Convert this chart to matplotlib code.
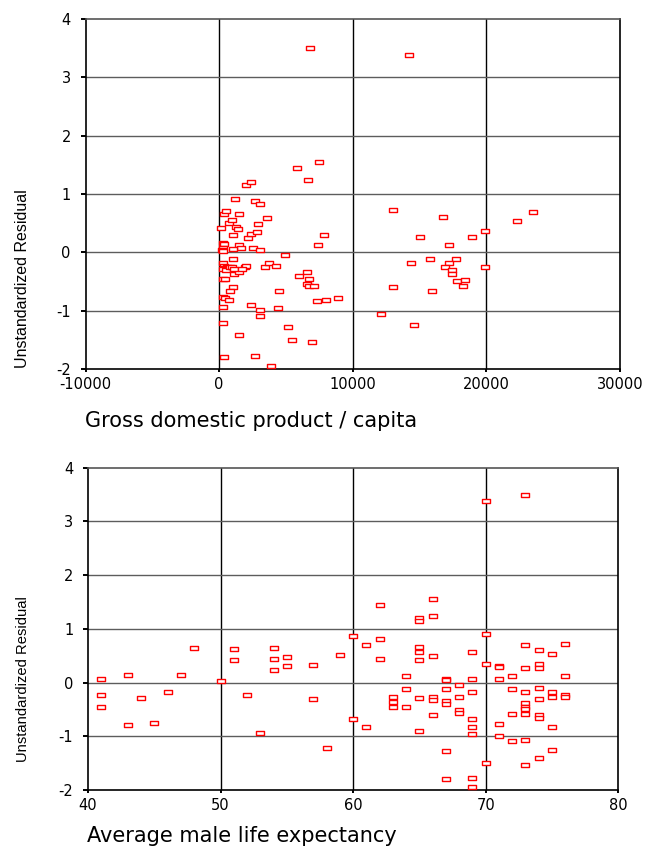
import matplotlib
matplotlib.use("Agg")
import matplotlib.pyplot as plt
from matplotlib.path import Path
from matplotlib import font_manager
import numpy as np

# ---------------- data ----------------
gdp_x = [150, 350, 520, 270, 380, 270, 250, 300, 270, 400, 600, 450, 300, 500,
         270, 420, 270, 420, 720, 270, 270, 370,
         770, 960, 1060, 1210, 1300, 1380, 1460, 1460, 1610, 1060, 1060, 800,
         1000, 1100, 1460, 1100, 1060, 830, 1900, 2000, 1700, 2000, 2400, 2130,
         2370, 2550, 2670, 2800, 2920, 3070, 3070, 3590, 3460, 3740, 4250, 4920,
         4500, 2400, 4380, 3070, 3070, 1460, 2670, 3860, 5190, 5460, 6920, 5990,
         6550, 6700, 6550, 6700, 7100, 7320, 8000, 8930, 5860, 7470, 6650, 7870,
         7370, 6820, 14230,
         12980, 16770, 23500, 22300, 19870, 15010, 18920, 17170, 14330, 15810,
         17710, 17170, 16890, 17440, 17440, 19870, 17820, 18390, 18240, 12980,
         15960, 12150, 14610]
gdp_resid = [0.42, 0.65, 0.70, 0.16, 0.14, 0.08, 0.04, 0.02, -0.18, -0.23, -0.25,
             -0.27, -0.28, -0.30, -0.45, -0.45, -0.76, -0.79, -0.81, -0.94, -1.22,
             -1.79,
             0.50, 0.55, 0.30, 0.91, 0.43, 0.40, 0.66, 0.12, 0.08, 0.06, -0.12,
             -0.26, -0.26, -0.37, -0.33, -0.29, -0.59, -0.67, -0.25, -0.24, -0.28,
             1.15, 1.20, 0.24, 0.32, 0.08, 0.88, 0.34, 0.49, 0.82, 0.04, 0.58,
             -0.26, -0.18, -0.24, -0.05, -0.67, -0.91, -0.95, -0.99, -1.10, -1.41,
             -1.77, -1.95, -1.28, -1.50, -1.53, -0.40, -0.34, -0.45, -0.54, -0.58,
             -0.58, -0.84, -0.81, -0.78, 1.45, 1.55, 1.24, 0.30, 0.12, 3.50, 3.38,
             0.72, 0.60, 0.69, 0.53, 0.36, 0.27, 0.27, 0.12, -0.18, -0.12,
             -0.11, -0.18, -0.26, -0.30, -0.38, -0.26, -0.49, -0.47, -0.58, -0.60,
             -0.66, -1.05, -1.25]

life_x = [41, 41, 41, 43, 43, 44, 45, 46, 47, 48, 50, 51, 51, 52, 53, 54, 54, 54,
          55, 55, 57, 57, 58, 59, 60, 60, 61, 61, 62, 62, 62, 63, 63, 63, 64, 64,
          64, 65, 65, 65, 65, 65, 65, 65, 66, 66, 66, 66, 66, 66,
          67, 67, 67, 67, 67, 67, 67, 68, 68, 68, 68,
          69, 69, 69, 69, 69, 69, 69, 69, 70, 70, 70, 70,
          71, 71, 71, 71, 71, 72, 72, 72, 72,
          73, 73, 73, 73, 73, 73, 73, 73, 73, 73,
          74, 74, 74, 74, 74, 74, 74, 74, 75, 75, 75, 75, 75, 76, 76, 76, 76]
life_resid = [0.06, -0.24, -0.46, 0.14, -0.79, -0.28, -0.76, -0.18, 0.15, 0.65,
              0.02, 0.63, 0.42, -0.24, -0.94, 0.65, 0.44, 0.24, 0.47, 0.30, 0.32,
              -0.30, -1.21, 0.52, 0.87, -0.68, 0.70, -0.82, 1.45, 0.81, 0.43,
              -0.26, -0.36, -0.46, 0.12, -0.12, -0.46,
              1.20, 1.15, 0.66, 0.56, 0.42, -0.28, -0.91,
              1.55, 1.23, 0.50, -0.26, -0.33, -0.60,
              0.06, 0.04, -0.12, -0.34, -0.39, -1.27, -1.79,
              -0.04, -0.26, -0.52, -0.56,
              0.57, 0.07, -0.18, -0.68, -0.83, -0.96, -1.77, -1.95,
              3.38, 0.91, 0.34, -1.49,
              0.31, 0.29, 0.07, -0.78, -0.99,
              0.12, -0.12, -0.58, -1.09,
              3.50, 0.70, 0.28, -0.18, -0.38, -0.46, -0.50, -0.58, -1.06, -1.53,
              0.60, 0.35, 0.28, -0.10, -0.30, -0.60, -0.66, -1.41,
              0.53, -0.18, -0.26, -0.82, -1.25,
              0.71, 0.12, -0.24, -0.26]

gdp_ticks = [-10000, 0, 10000, 20000, 30000]
life_ticks = [40, 50, 60, 70, 80]
resid_ticks = [-2, -1, 0, 1, 2, 3, 4]

y_title = "Unstandardized Residual"
gdp_title = "Gross domestic product / capita"
life_title = "Average male life expectancy"

# ---------------- style ----------------
W, H = 648, 846
fig = plt.figure(figsize=(W / 100, H / 100), dpi=100)

rect_marker = Path([(-1, -0.62), (1, -0.62), (1, 0.62), (-1, 0.62), (-1, -0.62)],
                   [Path.MOVETO, Path.LINETO, Path.LINETO, Path.LINETO, Path.CLOSEPOLY])

tick_font = dict(family=["DejaVu Sans"], size=10.5)
label_font = dict(family=["DejaVu Sans"], size=15)

installed = {f.name for f in font_manager.fontManager.ttflist}
if "Liberation Sans Narrow" in installed:
    ylab_family = ["Liberation Sans Narrow", "DejaVu Sans"]
    ysize_top, ysize_bot = 14, 12.8
else:
    ylab_family = ["Liberation Sans", "DejaVu Sans"]
    ysize_top, ysize_bot = 11.5, 10.6


def px_axes(left, top, right, bottom):
    return fig.add_axes([left / W, 1 - bottom / H, (right - left) / W, (bottom - top) / H])


def style(ax, xt, xlim):
    ax.set_xlim(xlim)
    ax.set_ylim(-2, 4)
    ax.set_xticks(xt)
    ax.set_yticks(resid_ticks)
    ax.set_xticklabels([str(v) for v in xt], **tick_font)
    ax.set_yticklabels([str(v) for v in resid_ticks], **tick_font)
    ax.tick_params(axis="y", direction="out", length=3.6, width=1.4, pad=7, colors="black")
    ax.tick_params(axis="x", direction="out", length=2.2, width=1.4, pad=3.5, colors="black")
    for v in xt[1:-1]:
        ax.axvline(v, color="black", lw=1.0, zorder=1)
    for v in resid_ticks[1:-1]:
        ax.axhline(v, color="#5c5c5c", lw=1.0, zorder=1)
    for s in ["left", "bottom", "right"]:
        ax.spines[s].set_linewidth(1.2)
        ax.spines[s].set_color("black")
    ax.spines["top"].set_linewidth(1.2)
    ax.spines["top"].set_color("#555555")


ax1 = px_axes(85.5, 19, 620, 369)
ax1.plot(gdp_x, gdp_resid, linestyle="none", marker=rect_marker, markersize=5.4,
         markerfacecolor="white", markeredgecolor="#ff0000", markeredgewidth=1.0, zorder=3)
style(ax1, gdp_ticks, (gdp_ticks[0], gdp_ticks[-1]))

ax2 = px_axes(88, 467.7, 618.3, 790)
ax2.plot(life_x, life_resid, linestyle="none", marker=rect_marker, markersize=5.1,
         markerfacecolor="white", markeredgecolor="#ff0000", markeredgewidth=1.0, zorder=3)
style(ax2, life_ticks, (life_ticks[0], life_ticks[-1]))

fig.text(85 / W, 1 - 421 / H, gdp_title, ha="left", va="center", **label_font)
fig.text(87 / W, 1 - 836 / H, life_title, ha="left", va="center", **label_font)
fig.text(23 / W, 1 - 279 / H, y_title, ha="center", va="center", rotation=90,
         size=ysize_top, family=ylab_family)
fig.text(23 / W, 1 - 679 / H, y_title, ha="center", va="center", rotation=90,
         size=ysize_bot, family=ylab_family)

fig.savefig("out.png", dpi=100, facecolor="white")
